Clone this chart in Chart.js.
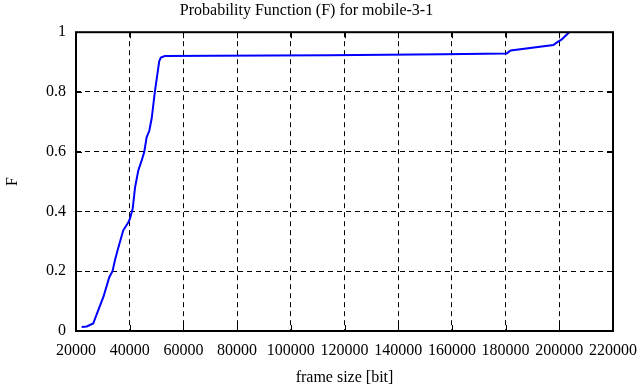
<!DOCTYPE html>
<html>
<head>
<meta charset="utf-8">
<script src="https://cdn.jsdelivr.net/npm/chart.js@4"></script>
<style>
  html, body { margin: 0; padding: 0; background: #fff; }
  #wrap { width: 644px; height: 387px; }
</style>
</head>
<body>
<div id="wrap"><canvas id="grafico"></canvas></div>
<script>
// valores (CDF do tamanho de quadro)
var tamanhos = [22100, 24000, 26400, 28300, 30200, 32400, 33600, 34500, 35800, 37600,
    39500, 40100, 41100, 42000, 43200, 44500, 45400, 46300, 47300, 48200,
    49400, 50300, 51000, 51600, 53100, 71000, 114000, 156800, 180400, 181900,
    197800, 199000, 200900, 203700];
var probF = [0.013, 0.015, 0.025, 0.07, 0.114, 0.18, 0.2, 0.237, 0.28, 0.337,
    0.364, 0.376, 0.409, 0.481, 0.537, 0.572, 0.598, 0.648, 0.67, 0.712,
    0.803, 0.859, 0.903, 0.915, 0.92, 0.921, 0.923, 0.926, 0.929, 0.939,
    0.957, 0.965, 0.976, 1.0];
var ticksX = [20000, 40000, 60000, 80000, 100000, 120000, 140000, 160000, 180000, 200000, 220000];
var ticksY = [0, 0.2, 0.4, 0.6, 0.8, 1];

var pontos = [];
for (var i = 0; i < tamanhos.length; i++) {
    pontos.push({ x: tamanhos[i], y: probF[i] });
}

var fonte = 'Liberation Serif';

// moldura e marcas internas estilo gnuplot
var moldura = {
    id: 'moldura',
    afterDraw: function (chart) {
        var c = chart.ctx, a = chart.chartArea;
        var sx = chart.scales.x, sy = chart.scales.y;
        c.save();
        c.strokeStyle = '#000';
        c.lineWidth = 1;
        c.setLineDash([]);
        ticksX.forEach(function (v) {
            var px = Math.round(sx.getPixelForValue(v)) + 0.5;
            c.beginPath();
            c.moveTo(px, a.bottom); c.lineTo(px, a.bottom - 6);
            c.moveTo(px, a.top); c.lineTo(px, a.top + 6);
            c.stroke();
        });
        ticksY.forEach(function (v) {
            var py = Math.round(sy.getPixelForValue(v)) + 0.5;
            c.beginPath();
            c.moveTo(a.left, py); c.lineTo(a.left + 6, py);
            c.moveTo(a.right, py); c.lineTo(a.right - 6, py);
            c.stroke();
        });
        c.lineWidth = 2;
        c.strokeRect(a.left, a.top, a.right - a.left, a.bottom - a.top);
        c.restore();
    }
};

new Chart(document.getElementById('grafico'), {
    type: 'line',
    data: {
        datasets: [{
            data: pontos,
            borderColor: '#0000ff',
            borderWidth: 2,
            pointRadius: 0,
            fill: false,
            tension: 0
        }]
    },
    options: {
        responsive: true,
        maintainAspectRatio: false,
        animation: false,
        layout: { padding: { left: 0, right: 31, top: 0, bottom: 0 } },
        plugins: {
            legend: { display: false },
            tooltip: { enabled: false },
            title: {
                display: true,
                text: 'Probability Function (F) for mobile-3-1',
                color: '#000',
                font: { family: fonte, size: 16, weight: 'normal' },
                padding: { top: 1, bottom: 12 }
            }
        },
        scales: {
            x: {
                type: 'linear',
                min: 20000,
                max: 220000,
                afterBuildTicks: function (s) {
                    s.ticks = ticksX.map(function (v) { return { value: v }; });
                },
                afterFit: function (s) {
                    s.height = 56;
                    s.paddingLeft = 0;
                    s.paddingRight = 0;
                },
                ticks: {
                    autoSkip: false,
                    maxRotation: 0,
                    padding: 10,
                    color: '#000',
                    font: { family: fonte, size: 16 },
                    callback: function (v) { return String(v); }
                },
                grid: {
                    color: function (ctx) {
                        var v = ctx.tick && ctx.tick.value;
                        return (v === 20000 || v === 220000) ? 'rgba(0,0,0,0)' : '#000';
                    },
                    lineWidth: 1,
                    drawTicks: false
                },
                border: { display: false, dash: [5, 4] },
                title: {
                    display: true,
                    text: 'frame size [bit]',
                    color: '#000',
                    font: { family: fonte, size: 16 },
                    padding: { top: 0, bottom: 0 }
                }
            },
            y: {
                min: 0,
                max: 1,
                afterBuildTicks: function (s) {
                    s.ticks = ticksY.map(function (v) { return { value: v }; });
                },
                afterFit: function (s) { s.width = 76; },
                ticks: {
                    padding: 10,
                    color: '#000',
                    font: { family: fonte, size: 16 },
                    callback: function (v) { return String(v); }
                },
                grid: {
                    color: function (ctx) {
                        var v = ctx.tick && ctx.tick.value;
                        return (v === 0 || v === 1) ? 'rgba(0,0,0,0)' : '#000';
                    },
                    lineWidth: 1,
                    drawTicks: false
                },
                border: { display: false, dash: [5, 4] },
                title: {
                    display: true,
                    text: 'F',
                    color: '#000',
                    font: { family: fonte, size: 16 },
                    padding: { top: 3, bottom: 17 }
                }
            }
        }
    },
    plugins: [moldura]
});
</script>
</body>
</html>
